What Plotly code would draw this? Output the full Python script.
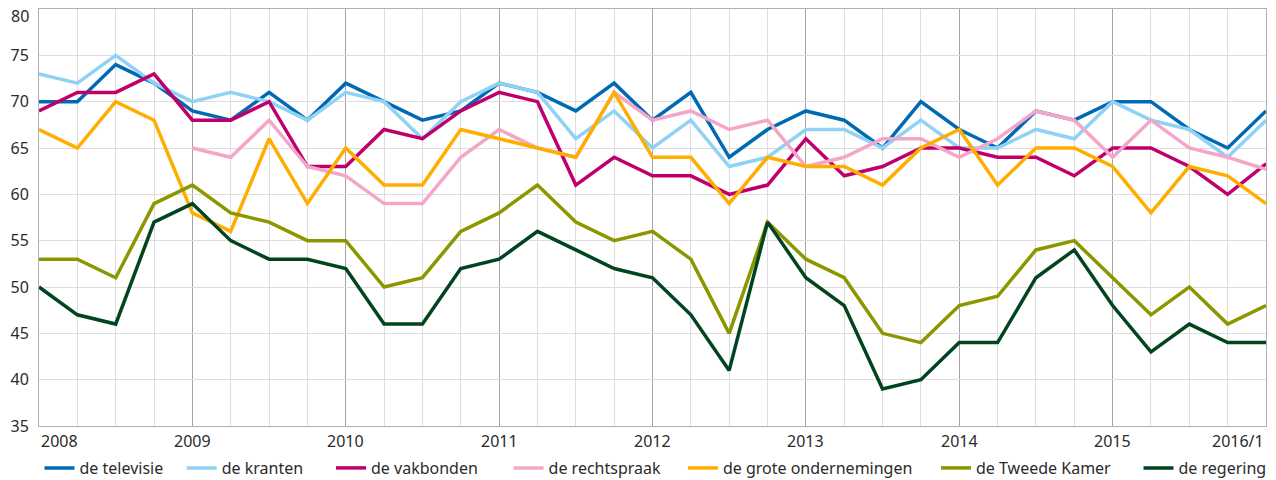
import plotly.graph_objects as go

quarters = list(range(33))  # 2008/1 .. 2016/1
year_ticks = [0, 4, 8, 12, 16, 20, 24, 28, 32]
year_labels = ["2008", "2009", "2010", "2011", "2012", "2013", "2014", "2015", "2016/1"]
y_ticks = [35, 40, 45, 50, 55, 60, 65, 70, 75, 80]
y_labels = ["35", "40", "45", "50", "55", "60", "65", "70", "75", "80"]

televisie = [70, 70, 74, 72, 69, 68, 71, 68, 72, 70, 68, 69, 72, 71, 69, 72,
             68, 71, 64, 67, 69, 68, 65, 70, 67, 65, 69, 68, 70, 70, 67, 65, 69]
kranten = [73, 72, 75, 72, 70, 71, 70, 68, 71, 70, 66, 70, 72, 71, 66, 69,
           65, 68, 63, 64, 67, 67, 65, 68, 65, 65, 67, 66, 70, 68, 67, 64, 68]
vakbonden = [69, 71, 71, 73, 68, 68, 70, 63, 63, 67, 66, 69, 71, 70, 61, 64,
             62, 62, 60, 61, 66, 62, 63, 65, 65, 64, 64, 62, 65, 65, 63, 60, 63.3]
rechtspraak = [None, None, None, None, 65, 64, 68, 63, 62, 59, 59, 64, 67, 65, 64, 71,
               68, 69, 67, 68, 63, 64, 66, 66, 64, 66, 69, 68, 64, 68, 65, 64, 62.7]
ondernemingen = [67, 65, 70, 68, 58, 56, 66, 59, 65, 61, 61, 67, 66, 65, 64, 71,
                 64, 64, 59, 64, 63, 63, 61, 65, 67, 61, 65, 65, 63, 58, 63, 62, 59]
tweede_kamer = [53, 53, 51, 59, 61, 58, 57, 55, 55, 50, 51, 56, 58, 61, 57, 55,
                56, 53, 45, 57, 53, 51, 45, 44, 48, 49, 54, 55, 51, 47, 50, 46, 48]
regering = [50, 47, 46, 57, 59, 55, 53, 53, 52, 46, 46, 52, 53, 56, 54, 52,
            51, 47, 41, 57, 51, 48, 39, 40, 44, 44, 51, 54, 48, 43, 46, 44, 44]

series = [
    ("de televisie", televisie, "#0069b4"),
    ("de kranten", kranten, "#8fd2f6"),
    ("de vakbonden", vakbonden, "#bf006c"),
    ("de rechtspraak", rechtspraak, "#f4a6c9"),
    ("de grote ondernemingen", ondernemingen, "#ffae00"),
    ("de Tweede Kamer", tweede_kamer, "#8c9700"),
    ("de regering", regering, "#00451f"),
]
# left edge (px) of each legend entry's text
legend_text_x = [80.5, 222.7, 372, 549.6, 723.9, 977, 1179.5]

FONT = "Noto Sans"
TXT = "#2b2b2b"
W, H = 1276, 480

fig = go.Figure()
legends = {}
for i, ((name, vals, col), tx) in enumerate(zip(series, legend_text_x)):
    lid = "legend" if i == 0 else f"legend{i + 1}"
    fig.add_trace(go.Scatter(x=quarters, y=vals, name=name, mode="lines",
                             line=dict(color=col, width=3.5), connectgaps=False,
                             legend=lid))
    legends[lid] = dict(xref="container", yref="container",
                        x=(tx - 41) / W, xanchor="left",
                        y=1 - 468 / H, yanchor="middle",
                        orientation="h", bgcolor="rgba(0,0,0,0)",
                        font=dict(family=FONT, size=16, color=TXT),
                        itemwidth=30)

for i, (xv, lab) in enumerate(zip(year_ticks, year_labels)):
    anchor = "left" if i == 0 else ("right" if i == len(year_ticks) - 1 else "center")
    fig.add_annotation(x=xv, y=-(441 - 426) / 417, xref="x", yref="paper",
                       text=lab, showarrow=False, xanchor=anchor, yanchor="middle",
                       font=dict(family=FONT, size=16, color=TXT))

# top y label is kept inside the page (as in the reference) instead of centred on its gridline
tick_text = y_labels[:-1] + [""]
fig.add_annotation(x=0, y=y_ticks[-1], xref="paper", yref="y", text=y_labels[-1],
                   showarrow=False, xanchor="right", yanchor="top", xshift=-8, yshift=6,
                   font=dict(family=FONT, size=16, color=TXT))

fig.update_layout(
    width=W, height=H,
    margin=dict(l=39, r=10, t=9, b=54, autoexpand=False),
    paper_bgcolor="white", plot_bgcolor="white",
    font=dict(family=FONT, size=16, color=TXT),
    showlegend=True,
    xaxis=dict(range=[0, 32], tickvals=year_ticks, showticklabels=False,
               showgrid=True, gridcolor="#a8a3a3", gridwidth=1,
               minor=dict(dtick=1, tick0=0, showgrid=True, gridcolor="#dedcdc", gridwidth=1),
               showline=True, linecolor="#b3aeae", linewidth=1, mirror=True,
               zeroline=False, fixedrange=True),
    yaxis=dict(range=[35, 80], tickvals=y_ticks, ticktext=tick_text, showgrid=True,
               gridcolor="#dedcdc", gridwidth=1, showline=True, linecolor="#b3aeae",
               linewidth=1, mirror=True,
               zeroline=False, ticks="outside", ticklen=6, tickcolor="rgba(0,0,0,0)",
               tickfont=dict(family=FONT, size=16, color=TXT), fixedrange=True),
    **legends,
)

fig.write_html("out.html", config={"displayModeBar": False},
               post_script="document.body.style.margin='0px';")
